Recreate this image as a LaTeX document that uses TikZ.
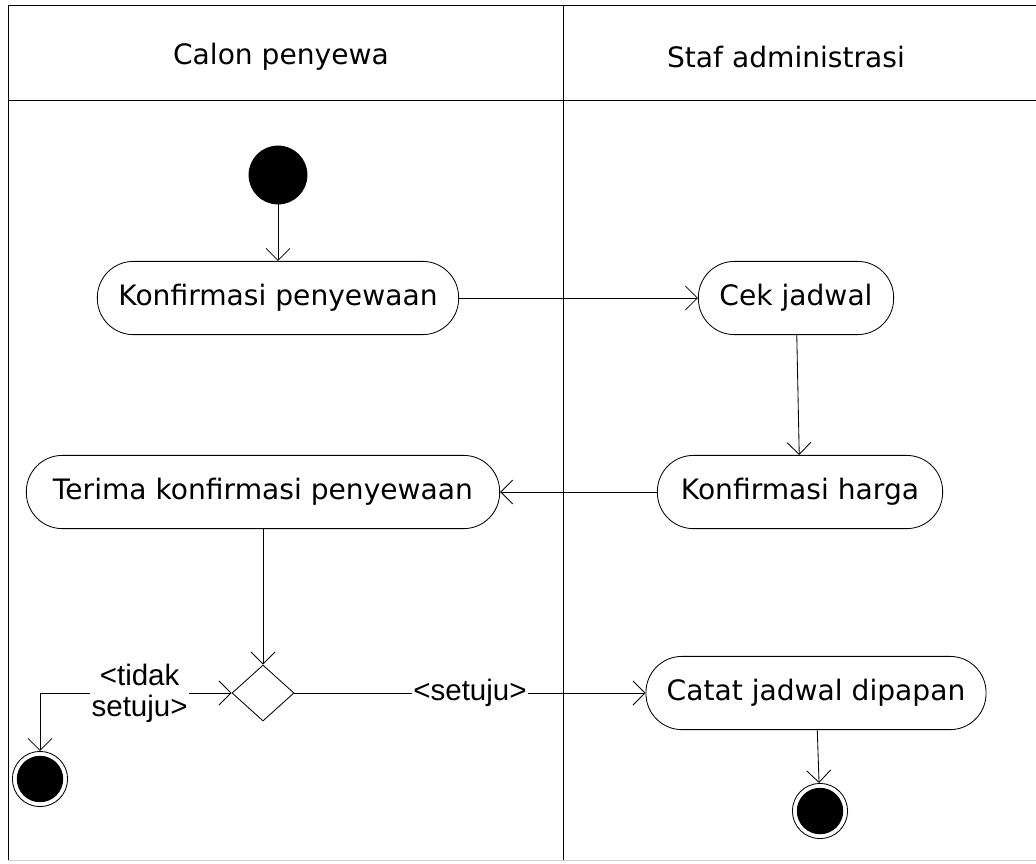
\documentclass[tikz,border=0pt]{standalone}
\usepackage{fontspec}
\setmainfont{DejaVu Sans}
\newfontfamily\labelfont{Liberation Sans}
\usetikzlibrary{shapes.geometric,arrows.meta}

\begin{document}
\begin{tikzpicture}[x=0.025cm, y=-0.025cm, line width=0.6pt,
  every node/.style={font=\fontsize{20}{24}\selectfont},
  aktivitas/.style={rectangle, rounded corners=0.9cm, draw, fill=white, minimum height=1.83cm, inner sep=0pt},
  mulai/.style={circle, draw, fill=black, minimum size=1.45cm},
  akhir/.style={circle, draw, minimum size=1.38cm, path picture={\fill (path picture bounding box.center) circle (0.58cm);}},
  keputusan/.style={diamond, draw, fill=white, minimum width=1.55cm, minimum height=1.4cm, inner sep=0pt},
  syarat/.style={fill=white, font=\labelfont\fontsize{21}{22}\selectfont, align=center, inner sep=1pt},
  panah/.style={-{Straight Barb[length=0.3cm, width=0.6cm]}}]

\useasboundingbox (0,0) rectangle (1036,863);

% Bingkai dan lajur
\draw (8,5) -- (1040,5);
\draw (8,100) -- (1040,100);
\draw (8,5) -- (8,860);
\draw (563,5) -- (563,860);
\draw[gray!40] (8,860) -- (1040,860);

\node (lajur1) at (281,57) {Calon penyewa};
\node (lajur2) at (786,57) {Staf administrasi};

% Calon penyewa
\node[mulai] (start) at (278,175) {};
\node[aktivitas, minimum width=9.03cm] (konf) at (278,298) {Konfirmasi penyewaan};
\node[aktivitas, minimum width=11.83cm] (terima) at (263,492) {Terima konfirmasi penyewaan};
\node[keputusan] (pilih) at (263,693) {};
\node[akhir] (akhir1) at (40,779) {};

% Staf administrasi
\node[aktivitas, minimum width=4.88cm] (cek) at (796,298) {Cek jadwal};
\node[aktivitas, minimum width=7.13cm] (harga) at (800,492) {Konfirmasi harga};
\node[aktivitas, minimum width=8.5cm] (catat) at (816,693) {Catat jadwal dipapan};
\node[akhir] (akhir2) at (820,811) {};

% Alur
\draw[panah] (start) -- (konf);
\draw[panah] (konf) -- (cek);
\draw[panah] (cek) -- (harga);
\draw[panah] (harga) -- (terima);
\draw[panah] (terima) -- (pilih);
\draw[panah] (pilih) -- node[syarat] {<setuju>} (catat);
\draw[{Straight Barb[length=0.3cm, width=0.6cm]}-{Straight Barb[length=0.3cm, width=0.6cm]}] (pilih) -| node[syarat, pos=0.24] {<tidak\\setuju>} (akhir1);
\draw[panah] (catat) -- (akhir2);

\end{tikzpicture}
\end{document}
